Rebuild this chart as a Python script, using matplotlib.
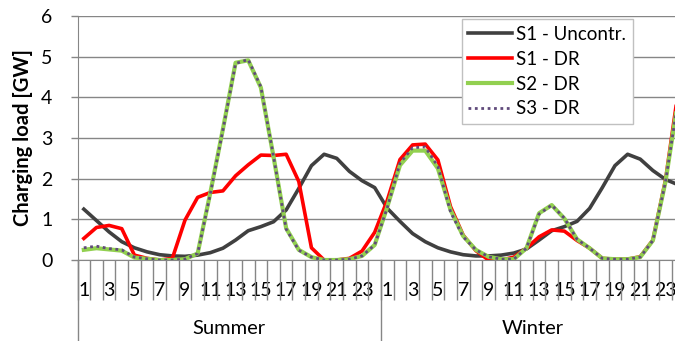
import matplotlib
matplotlib.use("Agg")
import matplotlib.pyplot as plt
import matplotlib.transforms as mtransforms
import numpy as np

plt.rcParams['font.family'] = ['Lato', 'DejaVu Sans']

seasons = ["Summer", "Winter"]
hours = list(range(1, 25))

s1_unc_summer = [1.25, 0.97, 0.69, 0.45, 0.30, 0.20, 0.13, 0.10, 0.09, 0.12, 0.18, 0.29,
                 0.49, 0.72, 0.82, 0.94, 1.23, 1.76, 2.32, 2.60, 2.50, 2.18, 1.95, 1.78]
s1_unc_winter = [1.27, 0.95, 0.65, 0.45, 0.30, 0.20, 0.13, 0.10, 0.10, 0.12, 0.17, 0.27,
                 0.49, 0.72, 0.82, 0.95, 1.27, 1.78, 2.32, 2.60, 2.48, 2.20, 1.98, 1.85]
s1_dr_summer = [0.53, 0.80, 0.85, 0.77, 0.12, 0.04, 0.00, 0.04, 0.98, 1.54, 1.66, 1.70,
                2.07, 2.34, 2.58, 2.57, 2.60, 1.93, 0.30, 0.00, 0.00, 0.04, 0.22, 0.68]
s1_dr_winter = [1.47, 2.47, 2.83, 2.85, 2.46, 1.31, 0.61, 0.23, 0.00, 0.00, 0.07, 0.29,
                0.57, 0.74, 0.71, 0.48, 0.29, 0.04, 0.02, 0.02, 0.08, 0.49, 1.97, 4.15]
s2_dr_summer = [0.25, 0.29, 0.26, 0.23, 0.06, 0.03, 0.00, 0.00, 0.02, 0.16, 1.65, 3.22,
                4.85, 4.91, 4.24, 2.54, 0.78, 0.25, 0.07, 0.00, 0.00, 0.02, 0.10, 0.37]
s2_dr_winter = [1.31, 2.33, 2.69, 2.69, 2.25, 1.23, 0.59, 0.25, 0.08, 0.02, 0.02, 0.29,
                1.15, 1.35, 1.02, 0.51, 0.29, 0.04, 0.02, 0.02, 0.07, 0.48, 1.93, 3.95]
s3_dr_summer = [0.30, 0.34, 0.28, 0.25, 0.07, 0.03, 0.00, 0.00, 0.02, 0.16, 1.62, 3.20,
                4.83, 4.93, 4.26, 2.55, 0.76, 0.24, 0.07, 0.00, 0.00, 0.02, 0.10, 0.37]
s3_dr_winter = [1.29, 2.38, 2.76, 2.78, 2.30, 1.18, 0.57, 0.25, 0.08, 0.02, 0.02, 0.29,
                1.13, 1.35, 1.03, 0.51, 0.29, 0.04, 0.02, 0.02, 0.07, 0.48, 1.93, 3.95]

series_names = ["S1 - Uncontr.", "S1 - DR", "S2 - DR", "S3 - DR"]

GRAY = "#868686"
W, H = 675, 341
fig = plt.figure(figsize=(W / 100, H / 100), dpi=100)
ncat = len(hours) * len(seasons)
cat_w = (381 - 77.5) / len(hours)
ax = fig.add_axes([77.5 / W, (H - 260) / H, ncat * cat_w / W, 244 / H])

x = np.arange(ncat)
ax.plot(x, s1_unc_summer + s1_unc_winter, color="#404040", lw=2.6, label=series_names[0], zorder=3)
ax.plot(x, s1_dr_summer + s1_dr_winter, color="#ff0000", lw=2.6, label=series_names[1], zorder=4)
ax.plot(x, s2_dr_summer + s2_dr_winter, color="#92d050", lw=3.0, label=series_names[2], zorder=5)
ax.plot(x, s3_dr_summer + s3_dr_winter, color="#604a7b", lw=2.0, ls=(0, (1, 1.3)),
        label=series_names[3], zorder=6)

ax.set_xlim(-0.5, ncat - 0.5)
ax.set_ylim(0, 6)
ax.set_yticks(range(0, 7))
ax.yaxis.grid(True, color=GRAY, lw=1.0)
ax.set_axisbelow(True)
for s in ["top", "right"]:
    ax.spines[s].set_visible(False)
ax.spines["left"].set_color(GRAY)
ax.spines["bottom"].set_color(GRAY)
ax.tick_params(axis="y", direction="out", length=5, width=1, color=GRAY, pad=13,
               labelsize=14, labelcolor="black")

# category axis: boundaries as minor ticks, labels on majors
ax.set_xticks(x)
ax.set_xticklabels([str(h) if h % 2 == 1 else "" for h in hours] * len(seasons))
ax.set_xticks(np.arange(-0.5, ncat, 1.0), minor=True)
ax.tick_params(axis="x", which="major", length=0, pad=16, labelsize=14)
ax.tick_params(axis="x", which="minor", length=29, width=1, color=GRAY, direction="out")

trans = mtransforms.blended_transform_factory(ax.transData, ax.transAxes)
for k in range(len(seasons) + 1):
    xb = -0.5 + k * len(hours)
    ax.plot([xb, xb], [0, -81 / 244], transform=trans, color=GRAY, lw=1, clip_on=False)
for k, name in enumerate(seasons):
    xc = -0.5 + (k + 0.5) * len(hours)
    ax.text(xc, -(329 - 260) / 244, name, transform=trans, ha="center", va="center", fontsize=14.5)

fig.text(23 / W, 1 - 138 / H, "Charging load [GW]", rotation=90, ha="center", va="center",
         fontsize=14.5, fontweight="bold")

leg = ax.legend(loc="upper left", bbox_to_anchor=(461.7 / W, 1 - 19.3 / H),
                bbox_transform=fig.transFigure, frameon=True, fancybox=False,
                edgecolor="#c0c0c0", framealpha=1, fontsize=13.5, handlelength=2.35,
                handletextpad=0.2, labelspacing=0.42, borderpad=0.35, borderaxespad=0)
leg.get_frame().set_linewidth(1.0)

fig.savefig("out.png", dpi=100)
